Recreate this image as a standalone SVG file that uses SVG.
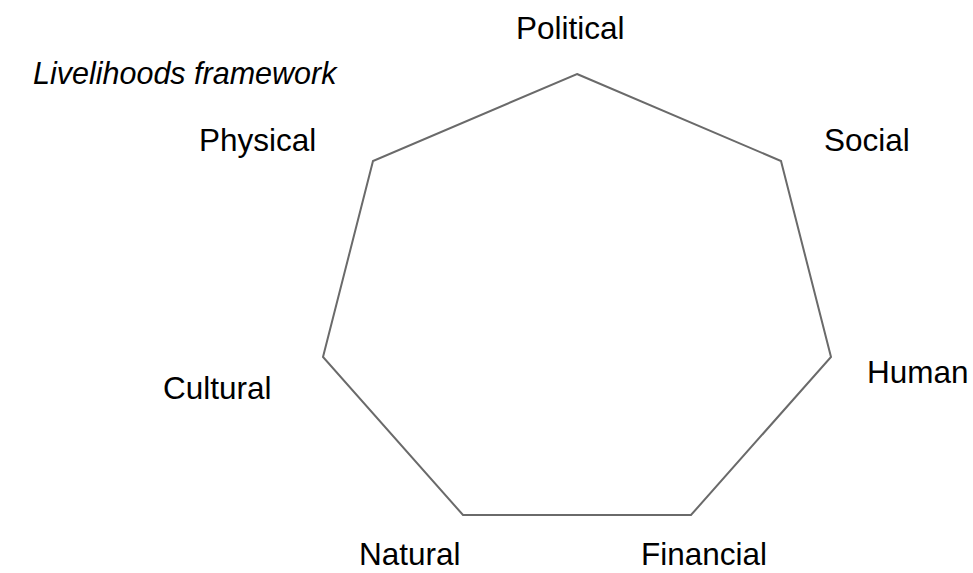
<svg xmlns="http://www.w3.org/2000/svg" width="973" height="573" viewBox="0 0 973 573">
<style>
.lbl{font-family:"Liberation Sans",Arial,sans-serif;font-size:31.5px;fill:#000}
.title{font-style:italic;font-size:30.5px}
.shape{fill:none;stroke:#6a6a6a;stroke-width:2;stroke-linejoin:miter}
</style>
<rect width="973" height="573" fill="#fff"/>
<g id="heptagon">
<polygon class="shape" points="577,74 781,161 831,357 691,515 463,515 323,357 373,161"/>
</g>
<g id="title"><text class="lbl title" x="33" y="84">Livelihoods framework</text></g>
<g id="political"><text class="lbl" x="516" y="39">Political</text></g>
<g id="physical"><text class="lbl" x="199" y="151">Physical</text></g>
<g id="social"><text class="lbl" x="824" y="151">Social</text></g>
<g id="cultural"><text class="lbl" x="163" y="399">Cultural</text></g>
<g id="human"><text class="lbl" x="867" y="383">Human</text></g>
<g id="natural"><text class="lbl" x="359" y="565">Natural</text></g>
<g id="financial"><text class="lbl" x="641" y="565">Financial</text></g>
</svg>
